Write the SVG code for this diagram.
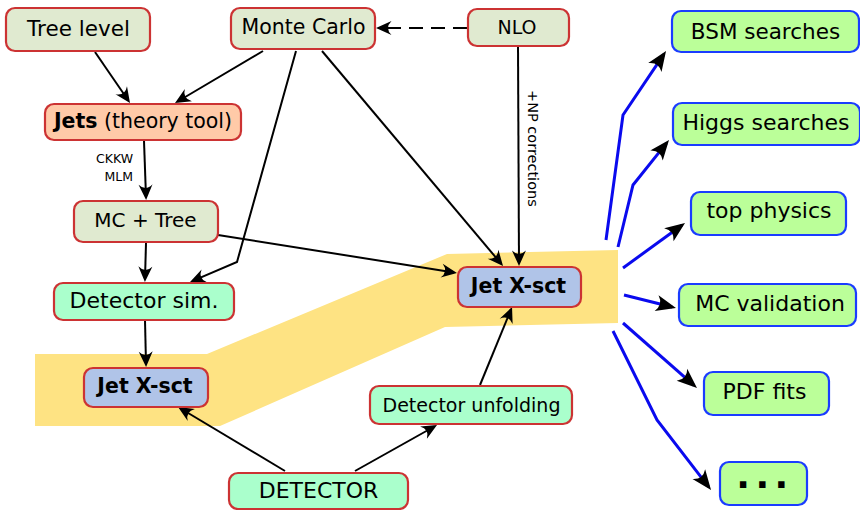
<svg xmlns="http://www.w3.org/2000/svg" width="860" height="510" viewBox="0 0 860 510">
<style>
text{font-family:"DejaVu Sans","Liberation Sans",sans-serif;fill:#000;}
.n rect{stroke:#cc3333;stroke-width:2.2;}
.b rect{stroke:#1a3cff;stroke-width:2.2;fill:#bbff99;}
.olive{fill:#e0ead0;}
.mint{fill:#aaffcc;}
.blue{fill:#b0c4e8;}
.peach{fill:#ffcaa8;}
.c{fill:none;stroke:#000;stroke-width:2;}
.bl{fill:none;stroke:#0a0aee;stroke-width:3;}
</style>
<defs>
<marker id="ah" markerUnits="userSpaceOnUse" markerWidth="24" markerHeight="24" viewBox="-16 -12 24 24" refX="0" refY="0" orient="auto" overflow="visible">
<path d="M3,0 L-12.5,-7 Q-5.5,0 -12.5,7 Z" fill="#000"/>
</marker>
<marker id="ahb" markerUnits="userSpaceOnUse" markerWidth="30" markerHeight="30" viewBox="-20 -15 30 30" refX="0" refY="0" orient="auto" overflow="visible">
<path d="M4,0 L-16,-8 Q-9,0 -16,8 Z" fill="#000"/>
</marker>
</defs>
<polygon points="35,354 207,354 447,254 618,250 618,323 445,327 220,426 35,426" fill="#fee383"/>
<g id="connectors">
<line class="c" x1="95" y1="52" x2="128.3" y2="100.5" marker-end="url(#ah)"/>
<line class="c" x1="263" y1="51" x2="177.6" y2="101.5" marker-end="url(#ah)"/>
<polyline class="c" points="296,51 237,262 192.8,280.8" marker-end="url(#ah)"/>
<line class="c" x1="322" y1="51" x2="501.1" y2="263.7" marker-end="url(#ah)"/>
<line class="c" x1="467" y1="28" x2="379" y2="28" stroke-dasharray="14 8" marker-end="url(#ah)"/>
<line class="c" x1="518" y1="46" x2="519" y2="263" marker-end="url(#ah)"/>
<line class="c" x1="144" y1="141" x2="146" y2="197" marker-end="url(#ah)"/>
<line class="c" x1="218" y1="235" x2="454" y2="272.5" marker-end="url(#ah)"/>
<line class="c" x1="146" y1="243" x2="145" y2="279" marker-end="url(#ah)"/>
<line class="c" x1="145" y1="320" x2="146" y2="364" marker-end="url(#ah)"/>
<line class="c" x1="285" y1="471" x2="180.6" y2="408.5" marker-end="url(#ah)"/>
<line class="c" x1="355" y1="471" x2="434.4" y2="426.5" marker-end="url(#ah)"/>
<line class="c" x1="480" y1="385" x2="510.9" y2="309.8" marker-end="url(#ah)"/>
<polyline class="bl" points="606,240 623,115 663.8,54.3" marker-end="url(#ahb)"/>
<polyline class="bl" points="618,247 633,185 666.5,143.1" marker-end="url(#ahb)"/>
<line class="bl" x1="623" y1="268" x2="681.8" y2="225.3" marker-end="url(#ahb)"/>
<line class="bl" x1="624" y1="295" x2="672.1" y2="307" marker-end="url(#ahb)"/>
<line class="bl" x1="623" y1="323" x2="694" y2="385.4" marker-end="url(#ahb)"/>
<polyline class="bl" points="613,331 657,420 708.6,486.8" marker-end="url(#ahb)"/>
<text x="133" y="163" font-size="12.5" text-anchor="end">CKKW</text>
<text x="133" y="181" font-size="12.5" text-anchor="end">MLM</text>
<text transform="translate(528,90) rotate(90)" font-size="14.5">+NP corrections</text>
</g>
<g id="tree-level" class="n"><rect class="olive" x="6" y="8" width="144" height="43" rx="9"/><text x="78.5" y="36" font-size="21.5" text-anchor="middle">Tree level</text></g>
<g id="monte-carlo" class="n"><rect class="olive" x="231" y="8" width="144" height="41" rx="9"/><text x="303.5" y="34" font-size="20.5" text-anchor="middle">Monte Carlo</text></g>
<g id="nlo" class="n"><rect class="olive" x="468" y="9" width="101" height="37" rx="9"/><text x="517" y="33.5" font-size="19" text-anchor="middle">NLO</text></g>
<g id="jets" class="n"><rect class="peach" x="45" y="104" width="196" height="36" rx="9"/><text x="143" y="128" font-size="20.5" text-anchor="middle"><tspan font-weight="bold">Jets</tspan> (theory tool)</text></g>
<g id="mc-tree" class="n"><rect class="olive" x="74" y="201" width="144" height="41" rx="9"/><text x="145.5" y="227" font-size="20" text-anchor="middle">MC + Tree</text></g>
<g id="detector-sim" class="n"><rect class="mint" x="54" y="283" width="180" height="37" rx="9"/><text x="144" y="308" font-size="22" text-anchor="middle">Detector sim.</text></g>
<g id="jet-xsct-left" class="n"><rect class="blue" x="84" y="368" width="124" height="39" rx="9"/><text x="145" y="393" font-size="20.5" font-weight="bold" text-anchor="middle">Jet X-sct</text></g>
<g id="jet-xsct-right" class="n"><rect class="blue" x="458" y="267" width="123" height="40" rx="9"/><text x="518.5" y="292.5" font-size="20.5" font-weight="bold" text-anchor="middle">Jet X-sct</text></g>
<g id="detector-unfolding" class="n"><rect class="mint" x="370" y="386" width="202" height="38" rx="9"/><text x="471.5" y="411.5" font-size="19" text-anchor="middle">Detector unfolding</text></g>
<g id="detector" class="n"><rect class="mint" x="229" y="473" width="179" height="36" rx="9"/><text x="318.5" y="498" font-size="22" text-anchor="middle">DETECTOR</text></g>
<g id="bsm" class="b"><rect x="672" y="11" width="187" height="41" rx="9"/><text x="765.5" y="38.5" font-size="21.5" text-anchor="middle">BSM searches</text></g>
<g id="higgs" class="b"><rect x="673" y="103" width="187" height="42" rx="9"/><text x="766" y="130" font-size="22" text-anchor="middle">Higgs searches</text></g>
<g id="top" class="b"><rect x="691" y="192" width="155" height="43" rx="9"/><text x="769" y="218" font-size="22" text-anchor="middle">top physics</text></g>
<g id="mc-validation" class="b"><rect x="679" y="284" width="177" height="42" rx="9"/><text x="770" y="311" font-size="22" text-anchor="middle">MC validation</text></g>
<g id="pdf-fits" class="b"><rect x="704" y="372" width="125" height="43" rx="9"/><text x="764.5" y="399" font-size="22" text-anchor="middle">PDF fits</text></g>
<g id="more" class="b"><rect x="720" y="462" width="87" height="43" rx="9"/><text x="765" y="488" font-size="36" font-weight="bold" letter-spacing="5.5" text-anchor="middle">...</text></g>
</svg>
